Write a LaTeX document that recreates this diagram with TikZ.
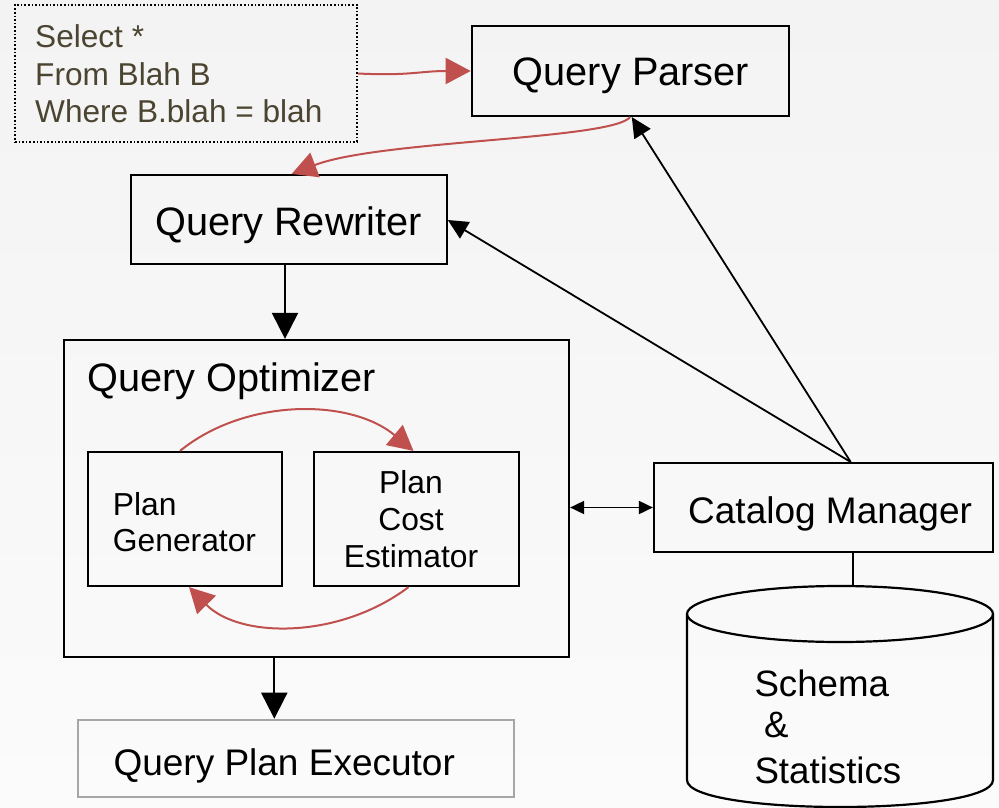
\documentclass[tikz,border=0pt]{standalone}
\usepackage{fontspec}
\setmainfont{Liberation Sans}
\usetikzlibrary{arrows.meta,calc}
\definecolor{redc}{HTML}{C0504D}
\definecolor{sqlc}{HTML}{4A4430}
\definecolor{bgtop}{HTML}{F3F3F3}
\definecolor{bgbot}{HTML}{FBFBFB}
\definecolor{execgray}{HTML}{A6A6A6}
\begin{document}
\begin{tikzpicture}[x=1pt,y=-1pt,
  box/.style={draw=black,line width=2.2pt,inner sep=0pt},
  txt/.style={inner sep=0pt,anchor=base west},
  ctxt/.style={inner sep=0pt,anchor=base},
  redline/.style={draw=redc,line width=2pt,-{Triangle[length=25pt,width=26pt]}},
  blkline/.style={draw=black,line width=2pt,-{Triangle[length=26pt,width=26pt]}},
  thinblk/.style={draw=black,line width=1.8pt,-{Triangle[length=20pt,width=19pt]}},
  dblblk/.style={draw=black,line width=1.8pt,{Triangle[length=14pt,width=13pt]}-{Triangle[length=14pt,width=13pt]}}
]
\useasboundingbox (0,0) rectangle (999,808);
\shade[top color=bgtop,bottom color=bgbot] (0,0) rectangle (999,808);

% SQL box
\node[draw=black,line width=1.6pt,dotted,inner sep=0pt,minimum width=342pt,minimum height=137pt] (sql) at (186,73.5) {};
\node[txt,text=sqlc,font=\fontsize{31.6}{36}\selectfont] (sql1) at (35,47.7) {Select *};
\node[txt,text=sqlc,font=\fontsize{31.6}{36}\selectfont] (sql2) at (35,85) {From Blah B};
\node[txt,text=sqlc,font=\fontsize{31.6}{36}\selectfont] (sql3) at (35,122) {Where B.blah = blah};

% Query Parser
\node[box,minimum width=317pt,minimum height=90pt] (qp) at (630.3,71) {};
\node[txt,font=\fontsize{39.7}{44}\selectfont] (qpt) at (512.7,85) {Query Parser};

% Query Rewriter
\node[box,minimum width=316pt,minimum height=89pt] (qr) at (288.7,219.5) {};
\node[txt,font=\fontsize{39.7}{44}\selectfont] (qrt) at (155,235) {Query Rewriter};

% Query Optimizer
\node[box,minimum width=505pt,minimum height=317pt] (qo) at (316.5,498.5) {};
\node[txt,font=\fontsize{39.7}{44}\selectfont] (qot) at (87,391) {Query Optimizer};

% Plan Generator
\node[box,minimum width=194pt,minimum height=134pt] (pg) at (185,519) {};
\node[txt,font=\fontsize{31.8}{36}\selectfont] (pg1) at (112.7,515) {Plan};
\node[txt,font=\fontsize{31.8}{36}\selectfont] (pg2) at (112.7,551.5) {Generator};

% Plan Cost Estimator
\node[box,minimum width=205pt,minimum height=134pt] (pce) at (416.5,519) {};
\node[ctxt,font=\fontsize{31.8}{36}\selectfont] (pce1) at (411,493) {Plan};
\node[ctxt,font=\fontsize{31.8}{36}\selectfont] (pce2) at (411,530) {Cost};
\node[ctxt,font=\fontsize{31.8}{36}\selectfont] (pce3) at (411,567) {Estimator};

% Catalog Manager
\node[box,minimum width=339pt,minimum height=89pt] (cm) at (823.5,507.5) {};
\node[txt,font=\fontsize{37}{42}\selectfont] (cmt) at (688,523) {Catalog Manager};

% Query Plan Executor
\node[draw=execgray,line width=2.2pt,inner sep=0pt,minimum width=436pt,minimum height=77pt] (qe) at (296,758.3) {};
\node[txt,font=\fontsize{37}{42}\selectfont] (qet) at (113.3,775) {Query Plan Executor};

% Cylinder
\coordinate (cyltop) at (840,586);
\draw[line width=2.2pt] (687,614) -- (687,780) .. controls (687,816) and (993,816) .. (993,780) -- (993,614);
\draw[line width=2.2pt] (840,614) ellipse [x radius=153, y radius=28];
\node[txt,font=\fontsize{36.7}{42}\selectfont] (s1) at (754.3,696) {Schema};
\node[txt,font=\fontsize{36.7}{42}\selectfont] (s2) at (764,737) {\&};
\node[txt,font=\fontsize{36.7}{42}\selectfont] (s3) at (754.3,783.3) {Statistics};

% Connectors
\coordinate (cmlink) at (853,552);
\draw[line width=2pt] (cmlink |- cm.south) -- (cmlink |- cyltop);

\draw[redline] (sql.east) .. controls (410,76) and (420,71) .. (qp.west);
\draw[redline] (qp.south) .. controls (610,140) and (380,140) .. ($(qr.north)+(3,0)$);

\coordinate (cmtop) at (850.7,462);
\draw[thinblk] (cmtop) -- ($(qp.south)+(1.5,0)$);
\draw[thinblk] (cmtop) -- ($(qr.east)+(0,0.5)$);

\draw[blkline] ($(qr.south)+(-3.7,0)$) -- ($(qr.south |- qo.north)+(-3.7,0)$);
\coordinate (exx) at (274.3,0);
\draw[blkline] (exx |- qo.south) -- (exx |- qe.north);

\draw[dblblk] (qo.east |- cm.west) -- (cm.west);

\draw[redline] ($(pg.north)+(-5,0)$) .. controls (245,398) and (350,398) .. ($(pce.north)+(-3,0)$);
\draw[redline] ($(pce.south)+(-8,0)$) .. controls (340,639) and (240,639) .. ($(pg.south)+(4,0)$);
\end{tikzpicture}
\end{document}
